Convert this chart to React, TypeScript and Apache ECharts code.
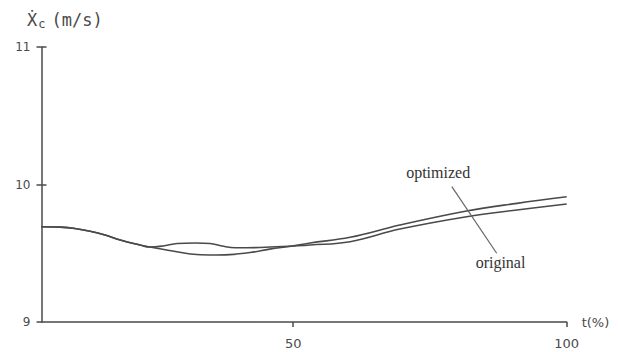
import React, { useEffect, useRef } from "react";
import * as echarts from "echarts";

// t (%) positions where the curves were read
const sharedT = [4, 7.4, 10.1, 12.9, 15.6, 18.4, 22.0, 23.8];
const sharedV = [9.693, 9.69, 9.68, 9.66, 9.633, 9.596, 9.56, 9.545];

const optimizedT = [27.4, 31.2, 34.8, 38.4, 42.1, 45.7, 49.9, 53.1, 60.4, 69.5, 81.7, 90.9, 100];
const optimizedV = [9.52, 9.495, 9.487, 9.49, 9.505, 9.53, 9.553, 9.575, 9.616, 9.705, 9.807, 9.863, 9.911];

const originalT = [26.2, 28.8, 32.1, 34.8, 37.0, 39.4, 44.0, 49.9, 53.1, 60.4, 69.5, 81.7, 90.9, 100];
const originalV = [9.553, 9.571, 9.575, 9.571, 9.553, 9.54, 9.542, 9.553, 9.56, 9.584, 9.676, 9.766, 9.815, 9.858];

const xTicks = [50, 100];
const yTicks = [9, 10, 11];

const labelOptimized = { name: "optimized", t: 76.5, v: 10.084 };
const labelOriginal = { name: "original", t: 87.9, v: 9.436 };
const leaderLine = [
  [79.0, 9.984],
  [87.2, 9.5],
];

const ink = "#4a4a4a";

export default function App() {
  const ref = useRef<HTMLDivElement>(null);
  useEffect(() => {
    if (!ref.current) return;
    const chart = echarts.init(ref.current, null, { renderer: "svg" });
    const pairs = (ts: number[], vs: number[]) => ts.map((t, i) => [t, vs[i]]);
    const optData = [...pairs(sharedT, sharedV), ...pairs(optimizedT, optimizedV)];
    const origData = [...pairs(sharedT, sharedV), ...pairs(originalT, originalV)];
    const annotStyle = {
      fontFamily: "Liberation Serif, DejaVu Serif, serif",
      fontSize: 16,
      color: "#333",
    };
    chart.setOption({
      animation: false,
      backgroundColor: "#fff",
      grid: { left: 41.5, right: 51.3, top: 47, bottom: 30, containLabel: false },
      graphic: [
        {
          type: "text",
          left: 27,
          top: 11,
          style: {
            text: "{a|Ẋ}{b|c}{a|(m/s)}",
            rich: {
              a: { fontFamily: "DejaVu Sans Mono", fontSize: 17, fill: ink },
              b: { fontFamily: "DejaVu Sans Mono", fontSize: 12, fill: ink, padding: [9, 6, 0, 1] },
            },
          },
        },
      ],
      xAxis: {
        type: "value",
        min: 4,
        max: 100,
        name: "t(%)",
        nameLocation: "end",
        nameGap: 15,
        nameTextStyle: { fontFamily: "DejaVu Sans", fontSize: 13, color: ink, padding: [4, 0, 0, 0] },
        axisLine: { show: true, lineStyle: { color: ink, width: 1.5 } },
        axisTick: { show: true, length: 5, customValues: xTicks, lineStyle: { color: ink, width: 1.5 } },
        axisLabel: {
          customValues: xTicks,
          fontFamily: "DejaVu Sans",
          fontSize: 13,
          color: ink,
          margin: 15,
        },
        splitLine: { show: false },
      },
      yAxis: [
        {
          type: "value",
          min: 9,
          max: 11,
          interval: 1,
          axisLine: { show: true, lineStyle: { color: ink, width: 1.5 } },
          axisTick: { show: true, length: 5, customValues: yTicks, lineStyle: { color: ink, width: 1.5 } },
          axisLabel: {
            customValues: yTicks,
            fontFamily: "DejaVu Sans",
            fontSize: 12,
            color: ink,
            margin: 11,
          },
          splitLine: { show: false },
        },
        {
          type: "value",
          min: 9,
          max: 11,
          interval: 1,
          position: "left",
          axisLine: { show: false },
          axisTick: { show: true, inside: true, length: 5, customValues: [10, 11], lineStyle: { color: ink, width: 1.5 } },
          axisLabel: { show: false },
          splitLine: { show: false },
        },
      ],
      series: [
        {
          name: "optimized",
          type: "line",
          data: optData,
          smooth: 0.4,
          symbol: "none",
          lineStyle: { color: ink, width: 1.6 },
          markPoint: {
            symbol: "circle",
            symbolSize: 0,
            data: [
              {
                coord: [labelOptimized.t, labelOptimized.v],
                label: { show: true, position: "inside", formatter: labelOptimized.name, ...annotStyle },
              },
            ],
          },
          markLine: {
            symbol: "none",
            silent: true,
            label: { show: false },
            lineStyle: { color: "#666", width: 1.2, type: "solid" },
            data: [[{ coord: leaderLine[0] }, { coord: leaderLine[1] }]],
          },
        },
        {
          name: "original",
          type: "line",
          data: origData,
          smooth: 0.4,
          symbol: "none",
          lineStyle: { color: ink, width: 1.6 },
          markPoint: {
            symbol: "circle",
            symbolSize: 0,
            data: [
              {
                coord: [labelOriginal.t, labelOriginal.v],
                label: { show: true, position: "inside", formatter: labelOriginal.name, ...annotStyle },
              },
            ],
          },
        },
      ],
    });
    return () => chart.dispose();
  }, []);
  return <div ref={ref} style={{ width: 618, height: 352, position: "absolute", left: 0, top: 0 }} />;
}
